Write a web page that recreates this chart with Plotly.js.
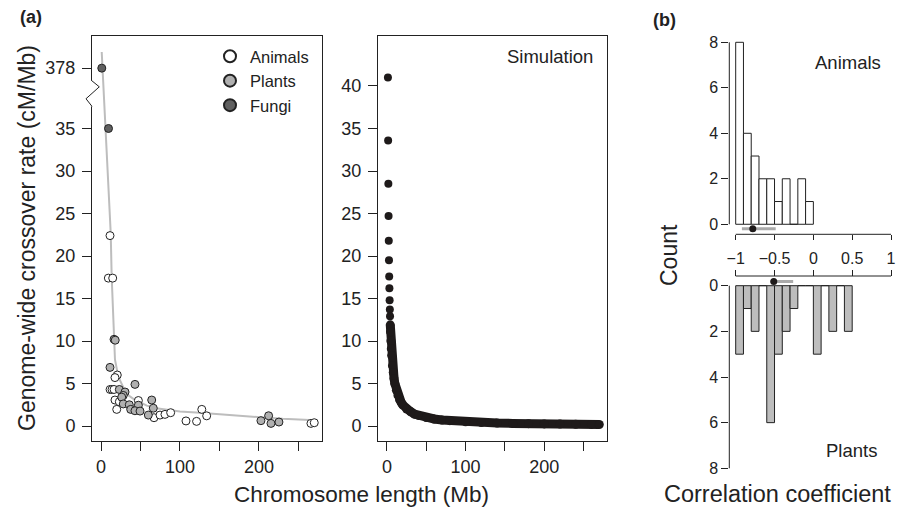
<!DOCTYPE html>
<html><head><meta charset="utf-8">
<script src="https://cdn.plot.ly/plotly-3.0.1.min.js"></script>
<style>html,body{margin:0;padding:0;background:#fff}#c{width:898px;height:508px}</style>
</head><body><div id="c"></div>
<script>
// ---------- Panel (a) left: observed data ----------
const animalsX = [11.4, 9.3, 14.8, 20.6, 17.7, 11.5, 14.0, 16.5, 17.7, 23.2, 19.9, 47.3, 67.1, 74.7, 81.0, 88.2, 107.6, 121.0, 127.6, 133.8, 265.8, 270.0];
const animalsY = [22.4, 17.4, 17.4, 6.0, 5.7, 4.3, 4.3, 4.3, 3.06, 2.86, 1.96, 3.0, 0.98, 1.29, 1.37, 1.57, 0.6, 0.55, 1.96, 1.2, 0.31, 0.39];
const plantsX = [16.5, 18.0, 11.4, 43.0, 23.2, 30.4, 28.2, 26.2, 28.2, 35.8, 47.3, 64.2, 66.2, 37.6, 43.0, 49.4, 59.9, 202.5, 212.2, 215.2, 225.3];
const plantsY = [10.2, 10.1, 6.9, 4.9, 4.3, 4.0, 3.6, 3.4, 2.6, 2.5, 2.45, 3.06, 2.1, 1.96, 1.8, 1.76, 1.29, 0.63, 1.21, 0.31, 0.47];
const fungiX = [1.0, 9.5];
const fungiY = [378, 35];
const fitX = [0.9, 5.9, 12.3, 13.5, 16.5, 17.7, 21.9, 32, 41, 58, 70, 88, 100, 125, 150, 175, 201, 230, 264];
const fitY = [416, 35, 22.7, 17.6, 10, 7.8, 5.8, 3.8, 3.2, 2.4, 2.1, 1.85, 1.7, 1.55, 1.37, 1.2, 1.0, 0.85, 0.72];
const rateTicks = [0, 5, 10, 15, 20, 25, 30, 35, 378];
const lengthTicks = [0, 50, 100, 150, 200, 250];
const lengthTickText = ['0', '', '100', '', '200', ''];

// ---------- Panel (a) right: simulation ----------
const simTopX = [1.22, 1.49, 1.76, 2.03, 2.29, 2.56, 2.84, 3.10, 3.38, 3.65, 3.90];
const simTopY = [41.0, 33.6, 28.5, 24.7, 21.8, 19.5, 17.6, 16.2, 14.8, 13.7, 12.9];
const simBandX = [4.2, 4.5, 5, 5.5, 6, 7, 8, 9, 10, 12, 14, 16, 18, 20, 25, 30, 35, 40, 50, 60, 70, 80, 100, 120, 140, 160, 180, 200, 220, 240, 260, 270];
const simBandY = [11.9, 11.1, 10.0, 9.1, 8.3, 7.1, 6.3, 5.6, 5.0, 4.2, 3.6, 3.1, 2.8, 2.5, 2.0, 1.7, 1.4, 1.25, 1.0, 0.83, 0.71, 0.63, 0.5, 0.42, 0.36, 0.31, 0.28, 0.25, 0.23, 0.21, 0.19, 0.185];
const simTicks = [0, 5, 10, 15, 20, 25, 30, 35, 40];

// ---------- Panel (b): correlation histograms ----------
const animalBins = [-0.95, -0.85, -0.75, -0.65, -0.55, -0.45, -0.35, -0.25, -0.15, -0.05];
const animalCounts = [8, 4, 3, 2, 2, 1, 2, 0, 2, 1];
const plantBins = [-0.95, -0.85, -0.75, -0.65, -0.55, -0.45, -0.35, -0.25, -0.15, -0.05, 0.05, 0.15, 0.25, 0.35, 0.45];
const plantCounts = [3, 1, 2, 0, 6, 3, 2, 1, 0, 0, 3, 0, 2, 0, 2];
const animalMean = [-0.78];
const animalCI = [-0.92, -0.485];
const plantMean = [-0.51];
const plantCI = [-0.55, -0.26];
const corrTicks = [-1, -0.5, 0, 0.5, 1];
const corrTickText = ['\u22121', '\u22120.5', '0', '0.5', '1'];
const countTicks = [0, 2, 4, 6, 8];

// broken y axis in panel (a): values above 35 are compressed; 378 sits just above the break
const BREAK_POS = 42.1;
function brk(v) {
  if (v <= 35) return v;
  if (v < 378) return 35 + (v - 35) / (378 - 35) * (BREAK_POS - 35);
  return BREAK_POS + (v - 378) / 20;
}

const FONT = 'Liberation Sans, Arial, Helvetica, sans-serif';
const INK = '#222';
const markerLine = {color: '#222', width: 1};

const traces = [
  {x: fitX, y: fitY.map(brk), mode: 'lines', line: {color: '#bdbdbd', width: 2}, showlegend: false, hoverinfo: 'skip', xaxis: 'x', yaxis: 'y'},
  {x: animalsX, y: animalsY.map(brk), mode: 'markers', name: 'Animals', marker: {size: 8, color: '#ffffff', line: markerLine}, xaxis: 'x', yaxis: 'y'},
  {x: plantsX, y: plantsY.map(brk), mode: 'markers', name: 'Plants', marker: {size: 8, color: '#b0b0b0', line: markerLine}, xaxis: 'x', yaxis: 'y'},
  {x: fungiX, y: fungiY.map(brk), mode: 'markers', name: 'Fungi', marker: {size: 8, color: '#606060', line: markerLine}, xaxis: 'x', yaxis: 'y'},

  {x: simTopX, y: simTopY, mode: 'markers', marker: {size: 8, color: '#1e1a1a'}, showlegend: false, xaxis: 'x2', yaxis: 'y2'},
  {x: simBandX, y: simBandY, mode: 'lines+markers', line: {color: '#1e1a1a', width: 9}, marker: {size: 9, color: '#1e1a1a'}, showlegend: false, xaxis: 'x2', yaxis: 'y2'},

  {type: 'bar', x: animalBins, y: animalCounts, width: 0.1, marker: {color: '#ffffff', line: {color: '#222', width: 1}}, showlegend: false, xaxis: 'x3', yaxis: 'y3'},
  {x: animalCI, y: [-0.2, -0.2], mode: 'lines', line: {color: '#aaaaaa', width: 3}, showlegend: false, cliponaxis: false, xaxis: 'x3', yaxis: 'y3'},
  {x: animalMean, y: [-0.2], mode: 'markers', marker: {size: 7, color: '#1e1a1a'}, showlegend: false, cliponaxis: false, xaxis: 'x3', yaxis: 'y3'},

  {type: 'bar', x: plantBins, y: plantCounts, width: 0.1, marker: {color: '#bdbdbd', line: {color: '#222', width: 1}}, showlegend: false, xaxis: 'x4', yaxis: 'y4'},
  {x: plantCI, y: [-0.18, -0.18], mode: 'lines', line: {color: '#aaaaaa', width: 3}, showlegend: false, cliponaxis: false, xaxis: 'x4', yaxis: 'y4'},
  {x: plantMean, y: [-0.18], mode: 'markers', marker: {size: 7, color: '#1e1a1a'}, showlegend: false, cliponaxis: false, xaxis: 'x4', yaxis: 'y4'}
];

const boxAxis = {showline: true, mirror: true, linecolor: INK, linewidth: 1, ticks: 'outside', ticklen: 9, tickcolor: INK,
  showgrid: false, zeroline: false, tickfont: {family: FONT, size: 18, color: INK}, fixedrange: true};
const histAxis = {showline: false, ticks: 'outside', tickcolor: INK, showgrid: false, zeroline: false,
  tickfont: {family: FONT, size: 16, color: INK}, fixedrange: true};

const PX = v => v / 898, PY = v => 1 - v / 508;
const xLeftB = PX(729.3);

function label(text, x, y, size, extra) {
  return Object.assign({text: text, x: PX(x), y: PY(y), xref: 'paper', yref: 'paper', xanchor: 'center', yanchor: 'middle',
    showarrow: false, font: {family: FONT, size: size, color: INK}}, extra || {});
}

const layout = {
  width: 898, height: 508, margin: {l: 0, r: 0, t: 0, b: 0},
  paper_bgcolor: '#fff', plot_bgcolor: 'rgba(0,0,0,0)',
  font: {family: FONT, color: INK},
  showlegend: true,
  legend: {x: PX(210), y: PY(39), xanchor: 'left', yanchor: 'top', bgcolor: 'rgba(0,0,0,0)', font: {family: FONT, size: 16.5, color: INK},
    tracegroupgap: 0, itemwidth: 30, itemsizing: 'constant'},
  xaxis: Object.assign({}, boxAxis, {domain: [PX(92), PX(322)], range: [-11.4, 279.8], anchor: 'y', tickvals: lengthTicks, ticktext: lengthTickText}),
  yaxis: Object.assign({}, boxAxis, {domain: [PY(441), PY(36)], range: [-1.76, 45.88], anchor: 'x', tickvals: rateTicks.map(brk), ticktext: rateTicks.map(String), ticklabelstandoff: 3}),
  xaxis2: Object.assign({}, boxAxis, {domain: [PX(378), PX(607)], range: [-11.4, 279.8], anchor: 'y2', tickvals: lengthTicks, ticktext: lengthTickText}),
  yaxis2: Object.assign({}, boxAxis, {domain: [PY(441), PY(36)], range: [-1.76, 45.88], anchor: 'x2', tickvals: simTicks, ticktext: simTicks.map(String), ticklabelstandoff: 3}),
  xaxis3: Object.assign({}, histAxis, {domain: [xLeftB, PX(894.9)], range: [-1.0824, 1.05], anchor: 'free', position: PY(234.3), ticklen: 5, tickvals: corrTicks, showticklabels: false}),
  yaxis3: Object.assign({}, histAxis, {domain: [PY(231.1), PY(37.75)], range: [-0.3, 8.2], anchor: 'x3', ticklen: 7, tickvals: countTicks, ticktext: countTicks.map(String)}),
  xaxis4: Object.assign({}, histAxis, {domain: [xLeftB, PX(894.9)], range: [-1.0824, 1.05], anchor: 'free', position: PY(276), side: 'top', ticklen: 6, tickvals: corrTicks, ticktext: corrTickText}),
  yaxis4: Object.assign({}, histAxis, {domain: [PY(472.87), PY(278.85)], range: [8.2, -0.3], anchor: 'x4', ticklen: 7, tickvals: countTicks, ticktext: countTicks.map(String)}),
  shapes: [
    // axis break on the left frame of panel (a)
    {type: 'line', layer: 'above', xref: 'paper', yref: 'y', x0: PX(92), x1: PX(92), y0: 37.6, y1: 40.6, line: {color: '#fff', width: 4}},
    {type: 'path', layer: 'above', xref: 'paper', yref: 'y', path: `M ${PX(92)},40.6 L ${PX(99.3)},39.9 L ${PX(86)},38.5 L ${PX(92)},37.6`, line: {color: INK, width: 1}},
    // R-style axis lines for the histograms
    {type: 'line', xref: 'paper', yref: 'y3', x0: xLeftB, x1: xLeftB, y0: 0, y1: 8, line: {color: INK, width: 1}},
    {type: 'line', xref: 'paper', yref: 'y4', x0: xLeftB, x1: xLeftB, y0: 0, y1: 8, line: {color: INK, width: 1}},
    {type: 'line', xref: 'x3', yref: 'paper', x0: -1, x1: 1, y0: PY(234.3), y1: PY(234.3), line: {color: INK, width: 1}},
    {type: 'line', xref: 'x4', yref: 'paper', x0: -1, x1: 1, y0: PY(276), y1: PY(276), line: {color: INK, width: 1}}
  ],
  annotations: [
    label('<b>(a)</b>', 31, 17, 18),
    label('<b>(b)</b>', 664, 20, 18),
    label('Genome-wide crossover rate (cM/Mb)', 27, 238, 23, {textangle: -90}),
    label('Chromosome length (Mb)', 361, 494, 22.5),
    label('Simulation', 505, 56, 18.5, {xanchor: 'left'}),
    label('Animals', 848, 62, 18.5),
    label('Plants', 851, 450, 18.5),
    label('Count', 669, 255, 23, {textangle: -90}),
    label('Correlation coefficient', 777, 494, 23.5)
  ]
};

Plotly.newPlot('c', traces, layout, {staticPlot: true, displayModeBar: false});
</script>
</body></html>
